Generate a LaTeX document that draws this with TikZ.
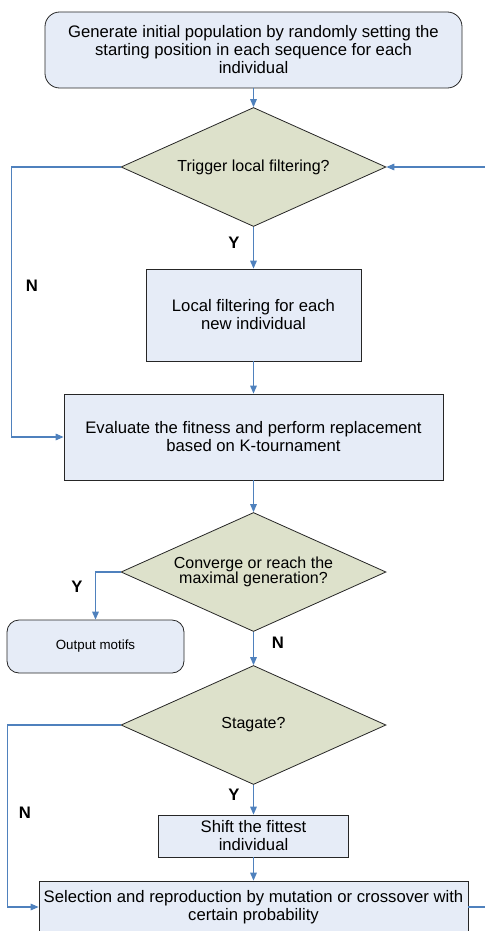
\documentclass[tikz,border=0pt]{standalone}
\usepackage{fontspec}
\setmainfont{Liberation Sans}
\usetikzlibrary{arrows.meta}
\usetikzlibrary{shapes.geometric, positioning, calc}
\usepackage{xcolor}
\definecolor{boxfill}{HTML}{E6ECF7}
\definecolor{decfill}{HTML}{DDE1CB}
\definecolor{flowblue}{HTML}{4F81BD}

\begin{document}
\begin{tikzpicture}[>={Triangle[length=6pt, width=5pt]}, x=0.75pt, y=-0.75pt,
    procbox/.style={draw=black!85, fill=boxfill, align=center, inner sep=0pt, line width=0.6pt,
      font=\fontsize{12.5}{13.5}\selectfont},
    decision/.style={diamond, draw=black!85, fill=decfill, align=center, inner sep=0pt, line width=0.6pt,
      shape aspect=2.227, minimum width=198.75pt, minimum height=89.25pt, font=\fontsize{12}{11.5}\selectfont},
    flow/.style={->, draw=flowblue, line width=0.8pt},
    answer/.style={font=\bfseries\fontsize{12.5}{14}\selectfont}]
      \clip (0, 0) rectangle (485, 931);

      \node[procbox, rounded corners=11pt, minimum width=312.75pt, minimum height=57pt] (start) at (253.5, 50)
        {Generate initial population by randomly setting the\\starting position in each sequence for each\\individual};
      \node[decision] (trigger) at (253.5, 167) {Trigger local filtering?};
      \node[procbox, minimum width=161.25pt, minimum height=69pt] (localf) at (253.5, 315)
        {Local filtering for each\\new individual};
      \node[procbox, minimum width=284.25pt, minimum height=64.5pt] (evaluate) at (253.5, 437)
        {Evaluate the fitness and perform replacement\\based on K-tournament};
      \node[decision] (converge) at (253.5, 572) {Converge or reach the\\maximal generation?};
      \node[procbox, rounded corners=9pt, minimum width=132.75pt, minimum height=39.75pt,
        font=\fontsize{10}{12}\selectfont] (output) at (95.5, 646.5) {Output motifs};
      \node[decision] (stagate) at (253.5, 725) {Stagate?};
      \node[procbox, minimum width=142.5pt, minimum height=31.5pt] (shift) at (253.5, 836)
        {Shift the fittest\\individual};
      \node[procbox, minimum width=321.75pt, minimum height=39pt] (select) at (253.5, 907)
        {Selection and reproduction by mutation or crossover with\\certain probability};

      \node[answer] (ytrig) at (234, 243) {Y};
      \node[answer] (ntrig) at (32, 286) {N};
      \node[answer] (yconv) at (77, 587) {Y};
      \node[answer] (nconv) at (278, 643) {N};
      \node[answer] (ystag) at (234, 795) {Y};
      \node[answer] (nstag) at (25, 813) {N};

      \draw[flow] (start) -- (trigger);
      \draw[flow] (trigger) -- (localf);
      \draw[flow] (localf) -- (evaluate);
      \draw[flow] (trigger.west) -- ++(-109, 0) |- (evaluate.west);
      \draw[flow] (evaluate) -- (converge);
      \draw[flow] (converge.west) -| (output.north);
      \draw[flow] (converge) -- (stagate);
      \draw[flow] (stagate) -- (shift);
      \draw[flow] (shift) -- (select);
      \draw[flow] (stagate.west) -- ++(-113, 0) |- (select.west);
      \draw[flow] (select.east) -- ++(22, 0) |- (trigger.east);
    \end{tikzpicture}
\end{document}
